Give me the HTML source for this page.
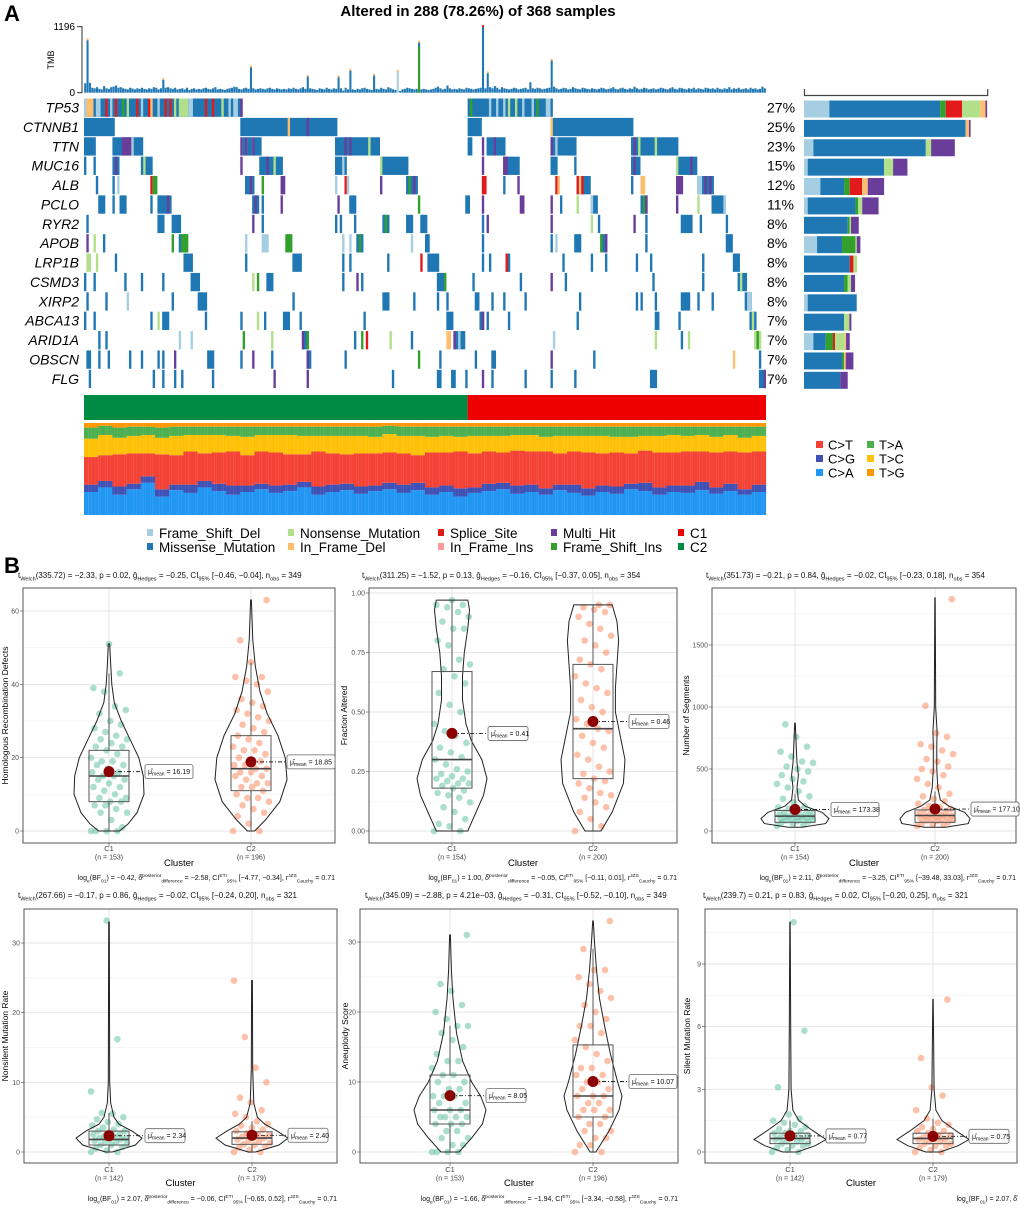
<!DOCTYPE html>
<html><head><meta charset="utf-8"><title>Oncoplot and cluster comparisons</title>
<style>
html,body{margin:0;padding:0;background:#fff;}
svg{display:block;font-family:"Liberation Sans",Arial,sans-serif;}
</style></head>
<body>
<svg id="fig" xmlns="http://www.w3.org/2000/svg" width="1020" height="1209" viewBox="0 0 1020 1209">
<rect x="0" y="0" width="1020" height="1209" fill="#fff"/>
<text x="4" y="21" font-size="22" font-weight="bold">A</text>
<text x="478" y="16" font-size="15" font-weight="bold" text-anchor="middle">Altered in 288 (78.26%) of 368 samples</text>
<text x="4" y="573" font-size="22" font-weight="bold">B</text>
<g id="tmb"></g>
<g id="onco"></g>
<g id="rbar"></g>
<g id="clus"></g>
<g id="spec"></g>
<g id="leg"></g>
<g id="vio"></g>
</svg>
<script>
const NS="http://www.w3.org/2000/svg";
function el(tag,attrs,parent){const e=document.createElementNS(NS,tag);for(const k in attrs)e.setAttribute(k,attrs[k]);if(parent)parent.appendChild(e);return e;}

// ===== Oncoplot data =====
const genes=["TP53","CTNNB1","TTN","MUC16","ALB","PCLO","RYR2","APOB","LRP1B","CSMD3","XIRP2","ABCA13","ARID1A","OBSCN","FLG"];
const genePct=["27%","25%","23%","15%","12%","11%","8%","8%","8%","8%","8%","7%","7%","7%","7%"];
const typeColor={F:"#A6CEE3",M:"#1F78B4",N:"#B2DF8A",I:"#FDBF6F",S:"#E31A1C",P:"#FB9A99",H:"#6A3D9A",G:"#33A02C"};
const geneRuns=[
[[0,66,'M'],[0,3,'I'],[0,0,'F'],[5,6,'F'],[9,9,'S'],[11,11,'F'],[13,13,'S'],[16,16,'G'],[18,18,'N'],[22,22,'S'],[24,24,'F'],[27,27,'S'],[28,28,'I'],[31,31,'F'],[34,34,'S'],[36,36,'S'],[38,38,'N'],[40,43,'N'],[44,45,'F'],[51,51,'S'],[54,54,'S'],[58,58,'N'],[61,61,'F'],[63,64,'F'],[66,66,'H'],[162,197,'M'],[163,163,'G'],[171,171,'F'],[174,174,'F'],[177,177,'F'],[179,179,'N'],[182,182,'N'],[185,185,'F'],[189,189,'F'],[191,191,'G'],[195,196,'F']],
[[0,12,'M'],[66,106,'M'],[86,86,'I'],[94,94,'H'],[162,167,'M'],[197,231,'M'],[197,197,'I']],
[[0,4,'M'],[12,24,'M'],[16,19,'H'],[20,20,'F'],[66,66,'H'],[67,67,'M'],[68,68,'H'],[69,70,'M'],[71,71,'H'],[72,74,'M'],[106,124,'M'],[110,110,'H'],[112,112,'H'],[120,120,'N'],[162,163,'M'],[168,168,'H'],[170,177,'M'],[173,173,'H'],[197,207,'M'],[197,197,'H'],[199,199,'F'],[231,250,'M'],[232,232,'H'],[234,234,'N'],[241,241,'N']],
[[0,0,'M'],[4,4,'M'],[12,14,'M'],[13,13,'H'],[24,28,'M'],[25,25,'N'],[66,66,'H'],[74,83,'M'],[77,77,'H'],[80,80,'N'],[106,110,'M'],[109,109,'F'],[125,136,'M'],[125,125,'N'],[168,168,'H'],[177,183,'M'],[177,178,'H'],[197,199,'M'],[207,207,'M'],[231,234,'M'],[232,232,'H'],[250,258,'M'],[250,250,'N'],[256,256,'H']],
[[5,5,'M'],[12,12,'M'],[14,14,'F'],[28,28,'S'],[29,30,'G'],[68,71,'M'],[70,70,'H'],[75,75,'G'],[83,84,'H'],[106,106,'F'],[110,110,'S'],[111,111,'F'],[125,125,'H'],[136,140,'M'],[137,137,'G'],[139,139,'H'],[168,169,'S'],[177,177,'M'],[183,183,'H'],[199,199,'S'],[200,200,'I'],[208,213,'M'],[208,208,'S'],[209,209,'I'],[210,210,'S'],[231,231,'M'],[235,236,'I'],[250,252,'H'],[259,265,'M'],[259,260,'F'],[262,262,'H'],[264,264,'H']],
[[6,8,'M'],[12,12,'M'],[15,17,'M'],[28,28,'M'],[31,36,'M'],[35,35,'H'],[71,73,'M'],[72,72,'H'],[75,75,'M'],[83,83,'H'],[107,107,'H'],[112,114,'M'],[141,141,'G'],[161,162,'M'],[168,168,'H'],[184,185,'H'],[197,197,'H'],[201,201,'M'],[208,208,'N'],[214,216,'M'],[214,214,'F'],[235,237,'M'],[236,236,'G'],[237,237,'H'],[250,250,'H'],[259,259,'N'],[265,270,'M'],[270,270,'F']],
[[1,1,'M'],[31,33,'M'],[37,40,'M'],[71,71,'H'],[75,75,'M'],[106,106,'M'],[108,108,'M'],[114,114,'M'],[126,128,'M'],[127,127,'G'],[136,138,'M'],[142,144,'M'],[168,168,'M'],[170,170,'H'],[197,197,'H'],[214,214,'N'],[217,217,'M'],[232,232,'H'],[237,237,'M'],[252,256,'M'],[260,260,'M'],[271,271,'M']],
[[1,1,'H'],[4,4,'N'],[8,8,'M'],[37,37,'G'],[40,43,'M'],[41,43,'G'],[68,68,'F'],[75,77,'F'],[85,87,'G'],[109,109,'F'],[112,112,'F'],[115,117,'M'],[116,116,'G'],[138,138,'F'],[144,145,'M'],[168,168,'M'],[197,197,'M'],[199,199,'F'],[207,209,'M'],[218,220,'M'],[218,218,'G'],[220,220,'H'],[237,237,'M'],[271,273,'M']],
[[1,2,'N'],[5,5,'N'],[13,13,'M'],[42,45,'M'],[68,68,'M'],[88,91,'M'],[109,109,'M'],[112,112,'M'],[128,128,'M'],[142,142,'S'],[145,149,'M'],[168,168,'M'],[171,171,'M'],[178,179,'M'],[178,178,'S'],[202,202,'M'],[214,214,'M'],[220,220,'M'],[233,233,'M'],[239,239,'M'],[261,261,'M'],[274,276,'M']],
[[0,0,'M'],[4,4,'M'],[17,17,'M'],[24,24,'M'],[33,33,'M'],[45,48,'M'],[71,71,'N'],[73,73,'G'],[77,79,'M'],[109,109,'M'],[115,115,'H'],[117,117,'M'],[149,152,'M'],[152,152,'G'],[164,164,'M'],[184,184,'M'],[197,197,'H'],[203,203,'M'],[240,240,'M'],[261,261,'M'],[276,279,'M'],[277,277,'N']],
[[1,1,'M'],[9,9,'M'],[18,18,'F'],[37,37,'M'],[48,51,'M'],[88,88,'M'],[126,128,'M'],[139,139,'M'],[149,149,'M'],[153,153,'M'],[165,166,'M'],[172,172,'M'],[177,177,'M'],[186,186,'M'],[209,209,'M'],[233,233,'M'],[235,235,'M'],[241,241,'M'],[252,255,'M'],[259,259,'M'],[265,265,'M'],[279,281,'M'],[280,281,'F']],
[[0,0,'M'],[4,4,'M'],[28,28,'M'],[31,31,'N'],[33,35,'M'],[51,51,'M'],[66,66,'M'],[73,73,'N'],[76,76,'M'],[84,86,'M'],[91,91,'M'],[118,118,'M'],[153,155,'M'],[167,168,'M'],[168,168,'H'],[170,170,'M'],[179,179,'M'],[208,208,'M'],[241,242,'M'],[251,251,'M'],[281,283,'M'],[282,282,'N']],
[[6,6,'M'],[9,9,'M'],[40,40,'F'],[45,45,'F'],[67,67,'G'],[79,79,'N'],[92,94,'M'],[92,92,'H'],[94,94,'G'],[114,114,'M'],[117,117,'G'],[119,119,'S'],[129,129,'N'],[138,138,'M'],[153,154,'I'],[156,160,'M'],[156,156,'H'],[158,158,'F'],[198,198,'F'],[241,241,'N'],[252,252,'M'],[255,255,'N'],[283,285,'N'],[284,284,'G']],
[[1,2,'M'],[6,6,'M'],[10,10,'M'],[19,19,'M'],[24,24,'M'],[31,31,'M'],[33,33,'M'],[38,38,'H'],[52,54,'M'],[66,66,'M'],[71,71,'H'],[79,79,'M'],[94,95,'M'],[94,94,'H'],[110,110,'M'],[141,141,'G'],[150,150,'M'],[165,165,'M'],[172,173,'M'],[197,197,'H'],[215,215,'M'],[274,274,'I'],[285,285,'M']],
[[2,2,'M'],[29,29,'M'],[33,33,'M'],[38,38,'M'],[41,41,'M'],[54,54,'M'],[80,80,'H'],[94,94,'H'],[130,130,'M'],[149,150,'M'],[155,156,'M'],[161,161,'M'],[168,168,'H'],[172,172,'M'],[186,186,'M'],[197,197,'M'],[207,207,'M'],[239,241,'M'],[285,287,'M'],[287,287,'H']]
];
const barOrder=["F","M","G","S","N","I","H"];
const barF=[13.8,0,5.1,2,8.9,2,0,7.1,0,0,2,0,5.1,0,0];
const barM=[60.3,88,61.2,41.6,12.9,26,23.8,13.6,24.9,21.8,26.7,21.8,6.7,20.7,19.8];
const barG=[3.1,0,0,0,3.1,1.5,1.1,7.3,0,2,0,0,4,1.1,0];
const barS=[8.9,0,0,0,6.7,0,0,0,2,0,0,0,1.1,0,0];
const barN=[9.8,0,2.9,4.9,0,2.2,0.7,0.7,2,1.8,0,2.9,5.3,0,0];
const barI=[2.9,1.8,0,0,3.1,0,0,0,0,0,0,0,0.7,0.9,0];
const barH=[0.9,0.9,12.9,7.8,8.9,8.9,4.2,2,0,2.2,0,1.1,2,4.2,4];
const tmb=[170,957,180,90,80,100,70,60,120,80,70,100,110,130,90,100,80,70,60,90,75,60,80,70,
90,70,60,80,70,100,90,60,80,240,90,100,80,70,90,60,70,80,60,90,50,70,80,60,
70,60,80,90,70,60,80,100,60,70,60,50,70,80,90,110,100,70,60,80,90,70,466,80,
60,70,80,70,60,80,90,70,60,80,70,60,70,60,80,70,90,70,60,80,100,70,299,80,
70,60,50,80,70,60,90,70,60,80,70,287,80,40,90,60,407,60,50,70,60,80,90,70,
60,50,317,70,60,90,70,60,100,80,60,50,389,30,60,70,90,80,70,60,70,915,60,70,
60,50,60,70,90,110,80,60,70,130,80,60,70,60,80,70,60,90,80,70,60,70,80,90,
1196,80,359,100,80,120,90,60,100,80,70,60,70,90,80,60,70,80,90,60,190,80,70,90,
80,60,70,80,90,590,110,80,60,70,90,80,60,70,100,80,70,60,90,80,70,60,80,70,
60,70,90,80,60,70,80,100,70,60,80,90,70,60,80,70,110,80,60,70,90,80,60,70,
80,60,70,90,80,70,60,80,100,70,60,90,80,70,60,80,70,90,60,80,70,60,90,80,
70,80,60,90,70,60,80,70,100,60,80,70,90,60,70,80,60,90,70,80,60,70,110,80];
const specCA=[25,30,22,28,35,20,27,24,30,26,22,25,28,24,26,30,22,25,27,23,26,28,24,27,22,25,20,24,26,28,23,25,22,27,24,21,25,23,28,26,22,25,24,27,23,26,22,25];
const specCG=[8,7,9,6,7,8,6,9,7,8,10,7,6,8,7,6,9,8,7,8,6,7,9,8,8,7,9,6,8,7,9,8,7,6,9,8,7,8,6,9,8,7,8,9,7,8,6,8];
const specCT=[30,28,35,33,25,38,32,36,30,34,37,33,35,36,33,30,38,34,32,36,35,33,34,30,38,36,40,37,35,33,38,36,40,34,36,39,35,37,33,35,38,36,37,33,38,35,40,36];
const specTC=[20,22,18,19,20,18,21,18,20,19,17,20,18,19,21,20,17,19,20,19,18,20,19,21,17,18,16,19,17,18,17,18,16,19,17,18,19,17,18,16,18,19,17,18,17,18,16,17];
const specTA=[12,10,11,10,9,11,10,9,9,9,10,11,9,9,9,10,10,10,10,10,11,9,10,10,11,10,11,10,10,10,9,9,11,10,10,10,10,11,11,10,10,9,10,9,11,9,12,10];
const nSamples=288, nC1=162;

const X0=84,X1=766,CW=(X1-X0)/nSamples,RT=98.5,RP=19.38,RH=18.3;
const xc=i=>X0+i*CW;
const rowY=g=>RT+g*RP;
(function(){
 const gT=document.getElementById('tmb');
 const ty=v=>92.7-v/1196*66;
 el('line',{x1:82,y1:26,x2:82,y2:93,stroke:'#333','stroke-width':1},gT);
 [[1196,26],[0,93]].forEach(([v,y])=>{el('line',{x1:77,y1:ty(v),x2:82,y2:ty(v),stroke:'#333'},gT);
  const t=el('text',{x:75,y:ty(v)+3.5,'font-size':10,'text-anchor':'end'},gT);t.textContent=String(v);});
 const tl=el('text',{x:0,y:0,'font-size':9,'text-anchor':'middle',transform:'translate(54,60) rotate(-90)'},gT);tl.textContent='TMB';
 tmb.forEach((v,i)=>{
  const r=el('rect',{x:xc(i)+0.15,y:ty(v),width:CW-0.3,height:92.7-ty(v),fill:(i===132?'#A6CEE3':'#1F78B4')},gT);
  
  
  if(i===141){el('rect',{x:xc(i)+0.15,y:ty(v*0.9),width:CW-0.3,height:92.7-ty(v*0.9),fill:'#33A02C'},gT);}
  if(v>200){el('rect',{x:xc(i)+0.15,y:ty(v)-1.5,width:CW-0.3,height:2,fill:(i===168?'#E31A1C':'#FDBF6F')},gT);}
 });
 const gO=document.getElementById('onco');
 genes.forEach((g,gi)=>{
  const y=rowY(gi);
  const lab=el('text',{x:79,y:y+14,'font-size':14,'font-style':'italic','text-anchor':'end'},gO);lab.textContent=g;
  
  
  const pc=el('text',{x:767,y:y+14,'font-size':14},gO);pc.textContent=genePct[gi];
  
  
  geneRuns[gi].forEach(([s,e,t])=>{
   const r=el('rect',{x:xc(s),y:y,width:(e-s+1)*CW,height:RH,fill:typeColor[t]},gO);
   
   
  });
 });
 const gR=document.getElementById('rbar');
 const BX=804,BU=1.837;
 el('path',{d:`M${BX+0.5},89 V95.5 H${BX+100*BU} V89`,fill:'none',stroke:'#444','stroke-width':1.2},gR);
 const segs=[barF,barM,barG,barS,barN,barI,barH];
 genes.forEach((g,gi)=>{
  let x=BX;
  segs.forEach((arr,k)=>{const w=arr[gi]*BU;if(w<=0)return;
   const r=el('rect',{x:x,y:rowY(gi)+2,width:w,height:17,fill:typeColor[barOrder[k]]},gR);
   
   
   x+=w;});
 });
 const gC=document.getElementById('clus');
 el('rect',{x:X0,y:395,width:nC1*CW,height:25,fill:'#008B45'},gC);
 el('rect',{x:X0+nC1*CW,y:395,width:(nSamples-nC1)*CW,height:25,fill:'#EE0000'},gC);
 const gS=document.getElementById('spec');
 const SY0=423,SY1=515,SH=SY1-SY0;
 const specCols=['#2196F3','#3F51B5','#F44336','#FFC107','#4CAF50','#FF9800'];
 for(let i=0;i<nSamples;i++){
  const b=Math.floor(i/6);
  const vals=[specCA[b],specCG[b],specCT[b],specTC[b],specTA[b]];
  const sum=vals.reduce((a,c)=>a+c,0);vals.push(Math.max(0,100-sum));
  let y=SY1;
  vals.forEach((v,k)=>{const h=v/100*SH;
   const r=el('rect',{x:xc(i),y:y-h,width:CW+0.1,height:h,fill:specCols[k]},gS);
   
   
   y-=h;});
 }
 const specLab=[['C>T',0,0,2],['C>G',0,1,1],['C>A',0,2,0],['T>A',1,0,4],['T>C',1,1,3],['T>G',1,2,5]];
 specLab.forEach(([t,c,r,k])=>{const x=816+c*51,y=445+r*14;
  el('rect',{x:x,y:y-4,width:7,height:7,fill:specCols[k]},gS);
  const tx=el('text',{x:x+12,y:y+4.5,'font-size':13},gS);tx.textContent=t;
  
  });
 const gL=document.getElementById('leg');
 const legItems=[['Frame_Shift_Del','#A6CEE3',147,533],['Missense_Mutation','#1F78B4',147,547],['Nonsense_Mutation','#B2DF8A',288,533],['In_Frame_Del','#FDBF6F',288,547],['Splice_Site','#E31A1C',438,533],['In_Frame_Ins','#FB9A99',438,547],['Multi_Hit','#6A3D9A',551,533],['Frame_Shift_Ins','#33A02C',551,547],['C1','#EE0000',678,533],['C2','#008B45',678,547]];
 legItems.forEach(([t,c,x,y])=>{el('rect',{x:x,y:y-4,width:6,height:7,fill:c},gL);
  const tx=el('text',{x:x+12,y:y+5,'font-size':13.5},gL);tx.textContent=t;
  
  });
})();

const p1c1=[0,0,0,0,1,3,5,5,6,7,7,8,8,9,9,10,11,12,12,13,14,14,15,15,16,16,17,18,18,19,19,20,21,22,23,23,24,25,25,26,27,28,29,30,32,33,34,38,39,43,51];
const p1c2=[0,0,2,4,5,6,7,8,9,9,10,11,12,12,13,13,14,15,15,16,16,17,17,18,18,19,19,20,21,22,22,23,24,25,26,27,28,29,30,31,32,33,34,35,36,38,40,41,42,42,46,52,63];
const p2c1=[0,0,0.02,0.03,0.05,0.08,0.1,0.12,0.14,0.15,0.16,0.17,0.18,0.19,0.2,0.2,0.21,0.22,0.22,0.23,0.24,0.25,0.26,0.28,0.3,0.31,0.33,0.35,0.37,0.4,0.42,0.45,0.5,0.53,0.58,0.62,0.65,0.68,0.7,0.72,0.78,0.8,0.85,0.85,0.88,0.9,0.92,0.94,0.95,0.95,0.97];
const p2c2=[0,0.02,0.05,0.08,0.1,0.12,0.14,0.15,0.16,0.18,0.2,0.21,0.22,0.24,0.25,0.27,0.3,0.32,0.35,0.37,0.4,0.42,0.43,0.45,0.47,0.5,0.52,0.55,0.58,0.6,0.62,0.65,0.68,0.7,0.72,0.75,0.78,0.8,0.82,0.85,0.87,0.9,0.92,0.93,0.94,0.95,0.95];
const p3c1=[40,50,60,70,75,80,85,90,95,100,100,105,110,115,120,120,125,130,135,140,150,160,170,180,190,200,230,260,280,320,350,380,400,420,450,480,500,520,550,560,600,640,680,760,860];
const p3c2=[40,50,55,60,70,80,85,90,95,100,105,110,115,120,125,130,135,140,150,160,170,180,190,200,220,240,260,280,300,350,380,420,450,480,500,520,560,580,620,650,680,700,760,790,1010,1870];
const p4c1=[0,0,0.2,0.5,0.7,1,1,1.2,1.4,1.5,1.6,1.8,1.9,2,2,2.2,2.3,2.5,2.6,2.8,3,3,3.2,3.5,3.8,4,4.3,4.7,5,5.5,5.6,8.7,16.2,33.2];
const p4c2=[0,0,0.3,0.6,0.8,1,1.1,1.3,1.5,1.6,1.8,2,2,2.2,2.4,2.5,2.7,3,3.2,3.5,3.8,4,4.4,5,5.5,6,7.1,7.8,10,12.1,16.5,24.6];
const p5c1=[0,0,0,0,1,1,2,2,3,3,4,4,4,5,5,5,5,6,6,6,7,7,8,8,8,9,9,10,10,11,11,12,13,13,14,15,16,17,18,18,19,20,21,23,24,31];
const p5c2=[0,0,1,1,2,2,3,3,4,4,5,5,6,6,6,7,7,8,8,8,9,9,10,10,11,11,12,12,13,14,15,16,17,18,18,19,20,21,22,23,24,25,26,26,29,33];
const p6c1=[0,0,0.1,0.2,0.3,0.3,0.4,0.4,0.5,0.5,0.6,0.6,0.7,0.7,0.8,0.8,0.9,0.9,1,1,1.1,1.2,1.3,1.4,1.5,1.6,1.8,3.1,5.8,11];
const p6c2=[0,0,0.1,0.2,0.3,0.3,0.4,0.4,0.5,0.5,0.6,0.6,0.7,0.7,0.8,0.8,0.9,1,1,1.1,1.2,1.3,1.4,1.6,2,2.7,3.1,4.5,7.3];
const boxStats=[[[8,15,22,0,43],[11,17,26,0,46]],[[0.18,0.30,0.67,0,0.97],[0.22,0.43,0.70,0,0.95]],[[70,120,165,30,300],[70,125,170,30,320]],[[1,1.8,3,0,5.6],[1.1,2,2.9,0,4.4]],[[4,6,11,0,18],[5,8,15.3,0,29]],[[0.4,0.65,0.9,0,1.5],[0.4,0.65,0.9,0,1.6]]];
const means=[[16.19,18.85],[0.41,0.46],[173.38,177.10],[2.34,2.40],[8.05,10.07],[0.77,0.75]];
const meanLabels=[["16.19","18.85"],["0.41","0.46"],["173.38","177.10"],["2.34","2.40"],["8.05","10.07"],["0.77","0.75"]];
const profiles=[
[[[0,0.3],[2,0.55],[5,0.8],[10,1],[15,0.98],[20,0.85],[25,0.6],[30,0.35],[35,0.15],[40,0.08],[45,0.05],[51,0.02]],
 [[0,0.1],[3,0.4],[8,0.8],[14,1],[20,0.95],[26,0.75],[32,0.45],[38,0.25],[45,0.12],[52,0.05],[63,0.01]]],
[[[0,0.45],[0.05,0.6],[0.15,0.9],[0.22,1],[0.3,0.85],[0.38,0.55],[0.45,0.4],[0.55,0.3],[0.65,0.3],[0.75,0.35],[0.85,0.45],[0.93,0.5],[0.97,0.45]],
 [[0,0.25],[0.08,0.6],[0.2,0.95],[0.3,1],[0.4,0.85],[0.5,0.7],[0.6,0.7],[0.7,0.75],[0.8,0.8],[0.88,0.75],[0.95,0.6]]],
[[[30,0.2],[60,0.9],[100,1],[150,0.8],[200,0.3],[250,0.1],[350,0.06],[450,0.1],[550,0.06],[650,0.04],[870,0.01]],
 [[30,0.3],[60,0.95],[100,1],[150,0.85],[200,0.4],[250,0.15],[350,0.08],[500,0.05],[700,0.05],[800,0.06],[1000,0.02],[1880,0.005]]],
[[[0,0.1],[1,0.8],[2,1],[3,0.7],[4,0.3],[5,0.15],[7,0.05],[10,0.02],[33,0.01]],
 [[0,0.1],[1,0.75],[2,1],[3,0.7],[4,0.35],[5,0.15],[7,0.05],[12,0.02],[24.6,0.01]]],
[[[0,0.25],[2,0.6],[4,0.9],[6,1],[8,0.85],[10,0.6],[13,0.35],[17,0.18],[22,0.08],[26,0.04],[31,0.01]],
 [[0,0.1],[3,0.55],[6,0.9],[8,1],[10,0.85],[14,0.6],[18,0.4],[22,0.22],[26,0.12],[30,0.05],[33,0.01]]],
[[[0,0.2],[0.3,0.7],[0.6,1],[1.0,0.65],[1.5,0.25],[2,0.08],[3,0.03],[6,0.02],[11,0.005]],
 [[0,0.2],[0.3,0.7],[0.6,1],[1.0,0.65],[1.5,0.25],[2,0.08],[3,0.03],[5,0.02],[7.3,0.005]]]
];
const pointSets=[[p1c1,p1c2],[p2c1,p2c2],[p3c1,p3c2],[p4c1,p4c2],[p5c1,p5c2],[p6c1,p6c2]];
const yTicks=[[0,20,40,60],[0,0.25,0.5,0.75,1],[0,500,1000,1500],[0,10,20,30],[0,10,20,30],[0,3,6,9]];
const yTickLabels=[["0","20","40","60"],["0.00","0.25","0.50","0.75","1.00"],["0","500","1000","1500"],["0","10","20","30"],["0","10","20","30"],["0","3","6","9"]];
const yMinor=[[10,30,50],[0.125,0.375,0.625,0.875],[250,750,1250,1750],[5,15,25],[5,15,25],[1.5,4.5,7.5,10.5]];
const yTitles=["Homologous Recombination Defects","Fraction Altered","Number of Segments","Nonsilent Mutation Rate","Aneuploidy Score","Silent Mutation Rate"];
const nLabels=[["153","196"],["154","200"],["154","200"],["142","179"],["153","196"],["142","179"]];
const topTitles=[
"t_{Welch}(335.72) = −2.33, p = 0.02, ĝ_{Hedges} = −0.25, CI_{95%} [−0.46, −0.04], n_{obs} = 349",
"t_{Welch}(311.25) = −1.52, p = 0.13, ĝ_{Hedges} = −0.16, CI_{95%} [−0.37, 0.05], n_{obs} = 354",
"t_{Welch}(351.73) = −0.21, p = 0.84, ĝ_{Hedges} = −0.02, CI_{95%} [−0.23, 0.18], n_{obs} = 354",
"t_{Welch}(267.66) = −0.17, p = 0.86, ĝ_{Hedges} = −0.02, CI_{95%} [−0.24, 0.20], n_{obs} = 321",
"t_{Welch}(345.09) = −2.88, p = 4.21e−03, ĝ_{Hedges} = −0.31, CI_{95%} [−0.52, −0.10], n_{obs} = 349",
"t_{Welch}(239.7) = 0.21, p = 0.83, ĝ_{Hedges} = 0.02, CI_{95%} [−0.20, 0.25], n_{obs} = 321"];
const bfTitles=[
"log_{e}(BF_{01}) = −0.42, δ̂^{posterior}_{difference} = −2.58, CI^{ETI}_{95%} [−4.77, −0.34], r^{JZS}_{Cauchy} = 0.71",
"log_{e}(BF_{01}) = 1.00, δ̂^{posterior}_{difference} = −0.05, CI^{ETI}_{95%} [−0.11, 0.01], r^{JZS}_{Cauchy} = 0.71",
"log_{e}(BF_{01}) = 2.11, δ̂^{posterior}_{difference} = −3.25, CI^{ETI}_{95%} [−39.48, 33.03], r^{JZS}_{Cauchy} = 0.71",
"log_{e}(BF_{01}) = 2.07, δ̂^{posterior}_{difference} = −0.06, CI^{ETI}_{95%} [−0.65, 0.52], r^{JZS}_{Cauchy} = 0.71",
"log_{e}(BF_{01}) = −1.66, δ̂^{posterior}_{difference} = −1.94, CI^{ETI}_{95%} [−3.34, −0.58], r^{JZS}_{Cauchy} = 0.71",
"log_{e}(BF_{01}) = 2.07, δ̂"];
const layout=[
 {x0:23,x1:335,y0:588,y1:843,yz:831,yref:611,vref:60,g:[109,251],hw:[35,36],ytx:8,tx:18,ty:578,by:880,cy:866,ny:850},
 {x0:369,x1:677,y0:588,y1:843,yz:831,yref:593,vref:1,g:[452,593],hw:[35,32],ytx:347,tx:362,ty:578,by:880,cy:866,ny:850},
 {x0:712,x1:1016,y0:588,y1:843,yz:831,yref:645,vref:1500,g:[795,935],hw:[34,35],ytx:689,tx:706,ty:578,by:880,cy:866,ny:850},
 {x0:24,x1:337,y0:909,y1:1163,yz:1152,yref:943,vref:30,g:[109,252],hw:[33,36],ytx:8,tx:18,ty:898,by:1201,cy:1186,ny:1171},
 {x0:360,x1:678,y0:909,y1:1163,yz:1152,yref:942,vref:30,g:[450,593],hw:[36,29],ytx:348,tx:365,ty:898,by:1201,cy:1186,ny:1171},
 {x0:705,x1:1017,y0:909,y1:1163,yz:1152,yref:964,vref:9,g:[790,933],hw:[36,36],ytx:690,tx:703,ty:898,by:1201,cy:1186,ny:1171}
];
function richText(parent,x,y,str,size,anchor){
 const t=el('text',{x:x,y:y,'font-size':size,'text-anchor':anchor||'start',fill:'#111'},parent);
 const re=/(_\{[^}]*\}|\^\{[^}]*\})/g;let last=0,m,shift=0;
 const add=(txt,dy,fs)=>{const s=el('tspan',{},t);if(dy)s.setAttribute('dy',dy);if(fs)s.setAttribute('font-size',fs);s.textContent=txt;};
 while((m=re.exec(str))){
  if(m.index>last){add(str.slice(last,m.index),shift?-shift:0);shift=0;}
  const sub=m[0][0]==='_';const inner=m[0].slice(2,-1);const d=sub?2.5:-3;
  add(inner,d-shift,size*0.7);shift=d;last=re.lastIndex;
 }
 if(last<str.length)add(str.slice(last),shift?-shift:0);
 return t;
}
(function(){
 const gV=document.getElementById('vio');
 const colsPt=['#66C2A5','#FC8D62'];
 layout.forEach((L,pi)=>{
  const g=el('g',{},gV);
  
  
  const sy=v=>L.yz-(v/L.vref)*(L.yz-L.yref);
  el('rect',{x:L.x0,y:L.y0,width:L.x1-L.x0,height:L.y1-L.y0,fill:'#fff'},g);
  yMinor[pi].forEach(v=>{const y=sy(v);if(y>L.y0&&y<L.y1)el('line',{x1:L.x0,x2:L.x1,y1:y,y2:y,stroke:'#F3F3F3','stroke-width':0.8},g);});
  yTicks[pi].forEach((v,k)=>{const y=sy(v);
   el('line',{x1:L.x0,x2:L.x1,y1:y,y2:y,stroke:'#E6E6E6','stroke-width':1},g);
   el('line',{x1:L.x0-3,x2:L.x0,y1:y,y2:y,stroke:'#444','stroke-width':0.6},g);
   const t=el('text',{x:L.x0-4,y:y+2.5,'font-size':7,'text-anchor':'end',fill:'#555'},g);t.textContent=yTickLabels[pi][k];});
  L.g.forEach(x=>el('line',{x1:x,x2:x,y1:L.y0,y2:L.y1,stroke:'#E6E6E6','stroke-width':1},g));
  el('rect',{x:L.x0,y:L.y0,width:L.x1-L.x0,height:L.y1-L.y0,fill:'none',stroke:'#555','stroke-width':1},g);
  [0,1].forEach(ci=>{
   const cx=L.g[ci],hw=L.hw[ci];
   pointSets[pi][ci].forEach((v,i)=>{
    const dx=18*(((i*53)%31)/15-1);
    const c=el('circle',{cx:cx+dx,cy:sy(v),r:3.3,fill:colsPt[ci],'fill-opacity':0.55},g);
    
    
   });
   const prof=profiles[pi][ci];
   let d='';prof.forEach(([v,w],k)=>{d+=(k?'L':'M')+(cx+w*hw).toFixed(1)+','+sy(v).toFixed(1);});
   for(let k=prof.length-1;k>=0;k--){const [v,w]=prof[k];d+='L'+(cx-w*hw).toFixed(1)+','+sy(v).toFixed(1);}
   const vp=el('path',{d:d+'Z',fill:'none',stroke:'#222','stroke-width':1},g);
   
   
   const [q1,md,q3,wl,wh]=boxStats[pi][ci];const bw=20;
   el('line',{x1:cx,x2:cx,y1:sy(q3),y2:sy(wh),stroke:'#555','stroke-width':1},g);
   el('line',{x1:cx,x2:cx,y1:sy(q1),y2:sy(wl),stroke:'#555','stroke-width':1},g);
   const br=el('rect',{x:cx-bw,y:sy(q3),width:2*bw,height:sy(q1)-sy(q3),fill:'none',stroke:'#555','stroke-width':1},g);
   
   
   el('line',{x1:cx-bw,x2:cx+bw,y1:sy(md),y2:sy(md),stroke:'#444','stroke-width':1.6},g);
   const my=sy(means[pi][ci]);
   el('line',{x1:cx,x2:cx+36,y1:my,y2:my,stroke:'#222','stroke-width':0.9,'stroke-dasharray':'4,2,1,2'},g);
   const md_=el('circle',{cx:cx,cy:my,r:5.5,fill:'#8B0000'},g);
   
   
   const lw=meanLabels[pi][ci].length>4?48:40;
   el('rect',{x:cx+36,y:my-7,width:lw,height:14,rx:2,fill:'#fff',stroke:'#666','stroke-width':0.8},g);
   const lt=el('text',{x:cx+39,y:my+2.5,'font-size':7,fill:'#111'},g);
   const a=el('tspan',{},lt);a.textContent='μ̂';
   const b=el('tspan',{dy:1.5,'font-size':5},lt);b.textContent='mean';
   const c=el('tspan',{dy:-1.5},lt);c.textContent=' = '+meanLabels[pi][ci];
   
   
   el('line',{x1:cx,x2:cx,y1:L.y1,y2:L.y1+3,stroke:'#444','stroke-width':0.6},g);
   const xl=el('text',{x:cx,y:L.ny+1,'font-size':7.5,'text-anchor':'middle',fill:'#444'},g);xl.textContent=ci?'C2':'C1';
   const nl=el('text',{x:cx,y:L.ny+9.5,'font-size':7,'text-anchor':'middle',fill:'#444'},g);nl.textContent='(n = '+nLabels[pi][ci]+')';
  });
  const cl=el('text',{x:(L.x0+L.x1)/2,y:L.cy,'font-size':9.5,'text-anchor':'middle'},g);cl.textContent='Cluster';
  
  
  const yt=el('text',{x:0,y:0,'font-size':8.5,'text-anchor':'middle',transform:`translate(${L.ytx},${(L.y0+L.y1)/2}) rotate(-90)`},g);yt.textContent=yTitles[pi];
  
  
  const tt=richText(g,L.tx,L.ty,topTitles[pi],8);
  
  
  const bt=richText(g,L.x1,L.by,bfTitles[pi],7,'end');
  
  
 });
})();
</script>
</body></html>
